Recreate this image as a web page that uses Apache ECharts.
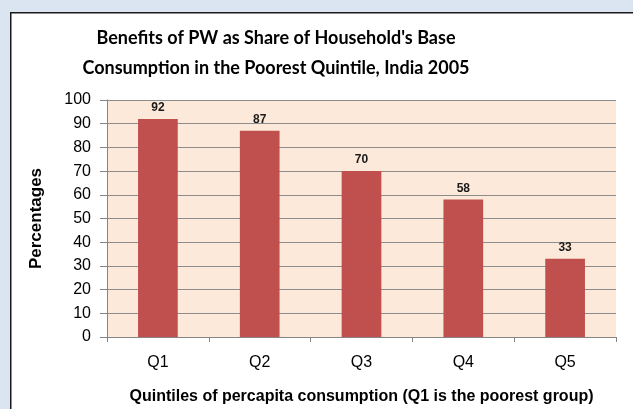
<!DOCTYPE html>
<html>
<head>
<meta charset="utf-8">
<script src="https://cdn.jsdelivr.net/npm/echarts@6/dist/echarts.min.js"></script>
<style>
  html, body { margin: 0; padding: 0; background: #dbe5f1; }
  #chart { width: 633px; height: 409px; }
</style>
</head>
<body>
<div id="chart"></div>
<script>
  // data
  var quintiles = ['Q1', 'Q2', 'Q3', 'Q4', 'Q5'];
  var benefitShare = [92, 87, 70, 58, 33];
  var yTicks = { min: 0, max: 100, interval: 10 };

  var myChart = echarts.init(document.getElementById('chart'));

  var option = {
    backgroundColor: '#dbe5f1',
    // white chart panel with dark border
    graphic: [{
      type: 'rect',
      left: 10,
      top: 12,
      shape: { width: 640, height: 420 },
      style: { fill: '#ffffff', stroke: '#1a1a1a', lineWidth: 1.5 },
      z: -10
    }],
    title: {
      text: "Benefits of PW as Share of Household's Base\nConsumption in the Poorest Quintile, India 2005",
      left: 271,
      textAlign: 'center',
      top: 18,
      textStyle: {
        fontFamily: 'Lato',
        fontWeight: 'bold',
        fontSize: 18,
        lineHeight: 30,
        color: '#000'
      }
    },
    grid: {
      left: 107,
      top: 100,
      right: 17,
      bottom: 72,
      outerBoundsMode: 'none',
      containLabel: false,
      show: true,
      backgroundColor: '#fde9d9',
      borderWidth: 0
    },
    xAxis: {
      type: 'category',
      data: quintiles,
      name: 'Quintiles of percapita consumption (Q1 is the poorest group)',
      nameLocation: 'middle',
      nameGap: 52,
      nameTextStyle: { fontFamily: 'Liberation Sans', fontWeight: 'bold', fontSize: 16, color: '#000' },
      axisLine: { lineStyle: { color: '#868686' } },
      axisTick: { show: true, length: 5, lineStyle: { color: '#868686' } },
      axisLabel: { fontFamily: 'Liberation Sans', fontSize: 16, color: '#000', margin: 18 }
    },
    yAxis: {
      type: 'value',
      min: yTicks.min,
      max: yTicks.max,
      interval: yTicks.interval,
      name: 'Percentages',
      nameLocation: 'middle',
      nameGap: 62,
      nameTextStyle: { fontFamily: 'Liberation Sans', fontWeight: 'bold', fontSize: 17, color: '#000' },
      axisLine: { show: true, lineStyle: { color: '#868686' } },
      axisTick: { show: true, length: 7, lineStyle: { color: '#868686' } },
      axisLabel: { fontFamily: 'Liberation Sans', fontSize: 16, color: '#000', margin: 16 },
      splitLine: { lineStyle: { color: '#8c8c8c', width: 1 } }
    },
    series: [{
      type: 'bar',
      data: benefitShare,
      barWidth: '39%',
      itemStyle: { color: '#c0504d' },
      label: {
        show: true,
        position: 'top',
        distance: 5,
        fontFamily: 'Liberation Sans',
        fontWeight: 'bold',
        fontSize: 12,
        color: '#1a1a1a'
      }
    }]
  };

  myChart.setOption(option);
</script>
</body>
</html>
